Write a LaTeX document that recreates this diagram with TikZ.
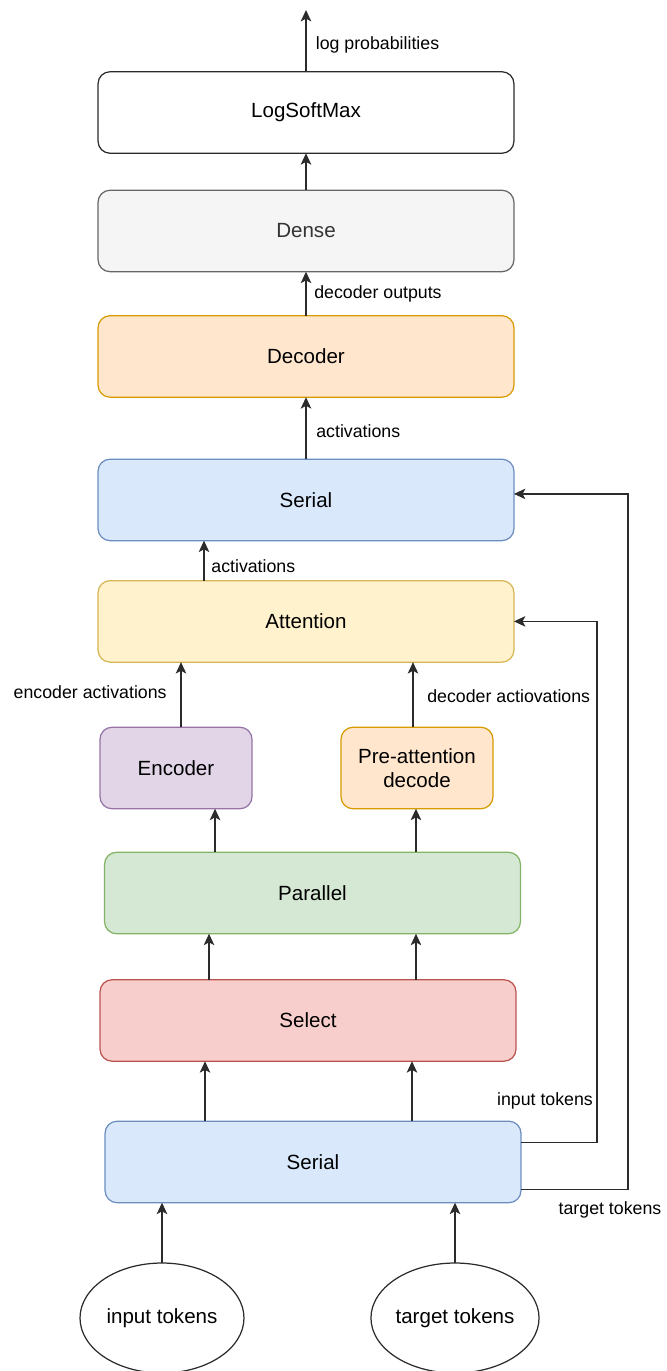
\documentclass[tikz,border=0pt]{standalone}
\usepackage{fontspec}
\setmainfont{Liberation Sans}
\usepackage{tikz}
\usepackage{xcolor}
\usetikzlibrary{shapes.geometric, arrows.meta, positioning, calc}
\definecolor{lineGray}{HTML}{2B2B2B}
\definecolor{serialFill}{HTML}{DAE8FC}
\definecolor{serialLine}{HTML}{6C8EBF}
\definecolor{attFill}{HTML}{FFF2CC}
\definecolor{attLine}{HTML}{D6B656}
\definecolor{decFill}{HTML}{FFE6CC}
\definecolor{decLine}{HTML}{D79B00}
\definecolor{encFill}{HTML}{E1D5E7}
\definecolor{encLine}{HTML}{9673A6}
\definecolor{parFill}{HTML}{D5E8D4}
\definecolor{parLine}{HTML}{82B366}
\definecolor{selFill}{HTML}{F8CECC}
\definecolor{selLine}{HTML}{B85450}
\definecolor{denseFill}{HTML}{F5F5F5}
\definecolor{denseLine}{HTML}{666666}

\begin{document}
\begin{tikzpicture}[x=0.02cm, y=-0.02cm]
    \tikzstyle{block} = [rectangle, rounded corners=0.24cm, minimum width=8.32cm, minimum height=1.63cm, text centered, font=\fontsize{11.7}{14}\selectfont, line width=0.7pt, outer sep=0pt, inner sep=2pt]
    \tikzstyle{smallblock} = [block, minimum width=3.04cm, text width=2.9cm, align=center]
    \tikzstyle{token} = [ellipse, draw=lineGray, line width=0.7pt, minimum width=3.28cm, minimum height=2.2cm, inner sep=0pt, font=\fontsize{11.7}{14}\selectfont, outer sep=0pt]
    \tikzstyle{arrow} = [-{Stealth[length=6.5pt, width=6pt, inset=1.6pt]}, line width=0.7pt, draw=lineGray]
    \tikzstyle{lbl} = [font=\fontsize{10.1}{12}\selectfont, inner sep=1pt]

    \useasboundingbox (0,0) rectangle (666,1371);

    % upper stack
    \node[block, draw=lineGray, fill=white] (lsm) at (306,112.5) {LogSoftMax};
    \node[block, draw=denseLine, fill=denseFill, text=black!80, below=0.74cm of lsm] (dense) {Dense};
    \node[block, draw=decLine, fill=decFill, below=0.88cm of dense] (dec) {Decoder};
    \node[block, draw=serialLine, fill=serialFill, below=1.24cm of dec] (serTop) {Serial};
    \node[block, draw=attLine, fill=attFill, below=0.8cm of serTop] (att) {Attention};

    % middle
    \node[smallblock, draw=encLine, fill=encFill] (enc) at (176,768) {Encoder};
    \node[smallblock, draw=decLine, fill=decFill, right=1.78cm of enc] (pre) {Pre-attention\\decode};

    % lower stack
    \node[block, draw=parLine, fill=parFill] (par) at (312.5,893) {Parallel};
    \node[block, draw=selLine, fill=selFill, below=0.92cm of par, xshift=-0.09cm] (sel) {Select};
    \node[block, draw=serialLine, fill=serialFill, below=1.2cm of sel, xshift=0.1cm] (serBot) {Serial};

    \node[token] (inTok) at (162,1318) {input tokens};
    \node[token] (tgTok) at (455,1318) {target tokens};

    \coordinate (out) at (307,10);

    % vertical arrows
    \draw[arrow] (lsm.north) -- (lsm.north |- out) node[lbl, right, pos=0.44, xshift=0.15cm] (lpLbl) {log probabilities};
    \draw[arrow] (dense.north) -- (dense.north |- lsm.south);
    \draw[arrow] (dec.north) -- (dec.north |- dense.south) node[lbl, right, pos=0.5, xshift=0.12cm] (doLbl) {decoder outputs};
    \draw[arrow] (serTop.north) -- (serTop.north |- dec.south) node[lbl, right, pos=0.45, xshift=0.16cm] (acLbl) {activations};
    \draw[arrow] ([xshift=-2.04cm]att.north) -- ([xshift=-2.04cm]att.north |- serTop.south) node[lbl, right, pos=0.375, xshift=0.1cm] (acLblB) {activations};
    \draw[arrow] ([xshift=0.1cm]enc.north) -- ([xshift=0.1cm]enc.north |- att.south) node[lbl, left, pos=0.54, xshift=-0.24cm] (eaLbl) {encoder activations};
    \draw[arrow] ([xshift=-0.08cm]pre.north) -- ([xshift=-0.08cm]pre.north |- att.south) node[lbl, right, pos=0.48, xshift=0.24cm] (daLbl) {decoder actiovations};
    \draw[arrow] ([xshift=-1.95cm]par.north) -- ([xshift=-1.95cm]par.north |- enc.south);
    \draw[arrow] ([xshift=2.07cm]par.north) -- ([xshift=2.07cm]par.north |- pre.south);
    \draw[arrow] ([xshift=-1.98cm]sel.north) -- ([xshift=-1.98cm]sel.north |- par.south);
    \draw[arrow] ([xshift=2.16cm]sel.north) -- ([xshift=2.16cm]sel.north |- par.south);
    \draw[arrow] ([xshift=-2.16cm]serBot.north) -- ([xshift=-2.16cm]serBot.north |- sel.south);
    \draw[arrow] ([xshift=1.98cm]serBot.north) -- ([xshift=1.98cm]serBot.north |- sel.south);
    \draw[arrow] (inTok.north) -- (inTok.north |- serBot.south);
    \draw[arrow] (tgTok.north) -- (tgTok.north |- serBot.south);

    % skip connections
    \draw[arrow] ($(serBot.north east)!0.26!(serBot.south east)$) -- ++(76,0) coordinate (inCorner) |- (att.east);
    \draw[arrow] ($(serBot.north east)!0.84!(serBot.south east)$) -- ++(107,0) coordinate (tgCorner) |- ([yshift=0.12cm]serTop.east);
    \node[lbl, anchor=east] (itLbl) at ([xshift=-0.04cm, yshift=0.82cm]inCorner) {input tokens};
    \node[lbl] (ttLbl) at ([xshift=-0.36cm, yshift=-0.4cm]tgCorner) {target tokens};
\end{tikzpicture}
\end{document}
